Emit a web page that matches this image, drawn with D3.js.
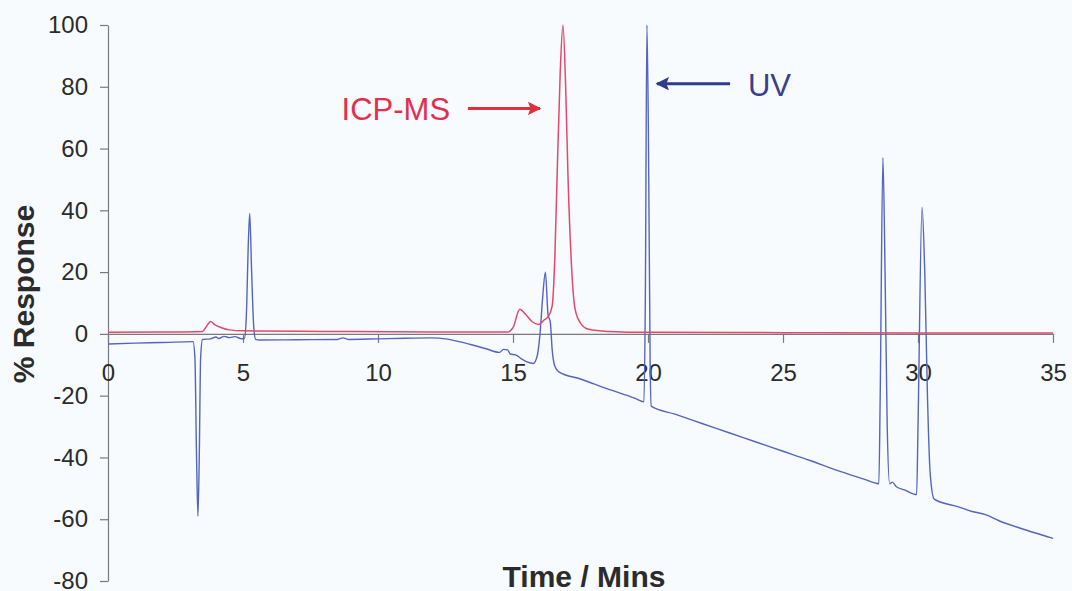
<!DOCTYPE html>
<html>
<head>
<meta charset="utf-8">
<script src="https://cdn.jsdelivr.net/npm/d3@7"></script>
<style>
  html, body { margin: 0; padding: 0; background: #f7fbfd; }
  svg { display: block; }
  .tick text { font-family: "Liberation Sans", Arial, sans-serif; font-size: 24px; fill: #2b2b2b; }
  .tick line, .domain { stroke: #7a7a7a; stroke-width: 1.2; }
</style>
</head>
<body>
<svg id="chart" width="1072" height="591"></svg>
<script>
// ---- data ----
const xTicks = [0, 5, 10, 15, 20, 25, 30, 35];
const yTicks = [-80, -60, -40, -20, 0, 20, 40, 60, 80, 100];
const xLabel = "Time / Mins";
const yLabel = "% Response";
const icpLabel = "ICP-MS";
const uvLabel = "UV";

// ICP-MS trace [time (min), % response]
const icpData = [
  [0, 0.5], [2, 0.6], [3.5, 0.8], [3.65, 2.5], [3.8, 4], [3.95, 3], [4.2, 2], [4.5, 1.3],
  [5, 1], [8, 0.8], [12, 0.6], [14.8, 0.6], [15.0, 2], [15.25, 8], [15.45, 6.5],
  [15.7, 4], [15.95, 3], [16.15, 4.5], [16.3, 5.5], [16.45, 9], [16.55, 25], [16.63, 50],
  [16.75, 85], [16.85, 100], [16.95, 80], [17.04, 50], [17.15, 25], [17.3, 8],
  [17.5, 3.5], [17.8, 1.5], [18.5, 0.8], [20, 0.5], [25, 0.4], [30, 0.3], [35, 0.3]
];

// UV trace [time (min), % response]
const uvData = [
  [0, -3.3], [1, -3.0], [2, -2.8], [3.15, -2.5], [3.22, -8], [3.28, -40], [3.33, -59],
  [3.38, -40], [3.43, -8], [3.5, -1.8], [3.8, -1.6], [4.0, -1.0], [4.1, -1.5], [4.3, -0.8],
  [4.5, -1.2], [4.7, -0.9], [4.95, -1.6], [5.05, -1.5], [5.12, 5], [5.2, 30], [5.25, 39],
  [5.32, 20], [5.4, 2], [5.47, -1.8], [5.6, -2.0], [7, -1.9], [8.5, -1.8], [8.7, -1.3],
  [8.9, -1.8], [10, -1.6], [11, -1.4], [12, -1.3], [12.5, -1.6], [13, -2.5], [13.5, -3.6],
  [14, -4.8], [14.5, -6], [14.65, -5], [14.8, -5.2], [14.9, -6.5], [15.1, -6.8], [15.3, -8],
  [15.5, -9], [15.75, -9.6], [15.9, -7], [16.0, 0], [16.1, 12], [16.2, 20], [16.3, 6],
  [16.38, 4], [16.45, -5], [16.55, -10.5], [16.7, -12.3], [17.5, -14.6], [18.5, -17.8],
  [19.5, -20.8], [19.85, -22], [19.9, 10], [19.96, 100], [20.02, 60], [20.08, -10],
  [20.12, -23.4], [21, -26], [22, -29], [23, -32], [24, -35], [25, -38], [26, -41],
  [27, -44.2], [28.0, -47], [28.55, -48.5], [28.6, -20], [28.7, 57], [28.78, 20],
  [28.86, -30], [28.95, -48.5], [29.05, -48], [29.2, -49.5], [29.5, -50.5], [29.95, -52],
  [30.0, -30], [30.15, 41], [30.25, 20], [30.35, -20], [30.45, -45], [30.6, -53.5],
  [31.5, -56], [32, -57.5], [32.5, -58.5], [33, -60.5], [34, -63.5], [35, -66.2]
];

// ---- chart ----
const svg = d3.select("#chart");
const x = d3.scaleLinear().domain([0, 35]).range([108, 1053]);
const y = d3.scaleLinear().domain([-80, 100]).range([581, 25]);
const fmt = d => String(d);

// y axis
svg.append("g")
  .attr("transform", `translate(${x(0)},0)`)
  .call(d3.axisLeft(y).tickValues(yTicks).tickFormat(fmt).tickSize(8).tickSizeOuter(0).tickPadding(12));

// x axis at y = 0
svg.append("g")
  .attr("transform", `translate(0,${y(0)})`)
  .call(d3.axisBottom(x).tickValues(xTicks).tickFormat(fmt).tickSize(9).tickSizeOuter(0).tickPadding(21));

const line = d3.line().curve(d3.curveMonotoneX).x(d => x(d[0])).y(d => y(d[1]));

svg.append("path").datum(uvData)
  .attr("d", line).attr("fill", "none")
  .attr("stroke", "#5565bf").attr("stroke-width", 1.4).attr("stroke-linejoin", "round");

svg.append("path").datum(icpData)
  .attr("d", line).attr("fill", "none")
  .attr("stroke", "#e5486a").attr("stroke-width", 1.5).attr("stroke-linejoin", "round");

// axis titles
svg.append("text")
  .attr("x", 584).attr("y", 587)
  .attr("text-anchor", "middle")
  .style("font-family", "'Liberation Sans', Arial, sans-serif")
  .style("font-weight", "bold").style("font-size", "30px").style("fill", "#2b2b2b")
  .text(xLabel);

svg.append("text")
  .attr("transform", "translate(34,294) rotate(-90)")
  .attr("text-anchor", "middle")
  .style("font-family", "'Liberation Sans', Arial, sans-serif")
  .style("font-weight", "bold").style("font-size", "30px").style("fill", "#2b2b2b")
  .text(yLabel);

// annotations
const defs = svg.append("defs");
function marker(id, color) {
  defs.append("marker").attr("id", id)
    .attr("viewBox", "0 0 10 10").attr("refX", 9).attr("refY", 5)
    .attr("markerWidth", 5).attr("markerHeight", 4.5).attr("orient", "auto")
    .attr("markerUnits", "strokeWidth")
    .append("path").attr("d", "M0,0 L10,5 L0,10 L2,5 Z").attr("fill", color);
}
marker("arrRed", "#e0303f");
marker("arrBlue", "#2f3b8f");

svg.append("text")
  .attr("x", x(12.67)).attr("y", y(73) + 12)
  .attr("text-anchor", "end")
  .style("font-family", "'Liberation Sans', Arial, sans-serif")
  .style("font-size", "31px").style("fill", "#e03050")
  .text(icpLabel);
svg.append("line")
  .attr("x1", x(13.33)).attr("x2", x(16.0))
  .attr("y1", y(73)).attr("y2", y(73))
  .attr("stroke", "#e0303f").attr("stroke-width", 3)
  .attr("marker-end", "url(#arrRed)");

svg.append("line")
  .attr("x1", x(23.04)).attr("x2", x(20.33))
  .attr("y1", y(81)).attr("y2", y(81))
  .attr("stroke", "#2f3b8f").attr("stroke-width", 3)
  .attr("marker-end", "url(#arrBlue)");
svg.append("text")
  .attr("x", x(23.7)).attr("y", y(81) + 12)
  .attr("text-anchor", "start")
  .style("font-family", "'Liberation Sans', Arial, sans-serif")
  .style("font-size", "31px").style("fill", "#3a3f8f")
  .text(uvLabel);
</script>
</body>
</html>
